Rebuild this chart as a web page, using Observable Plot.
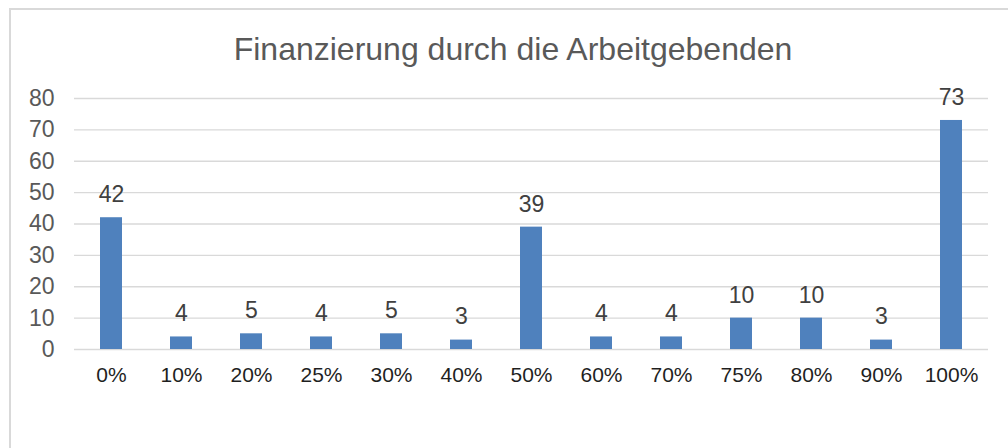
<!DOCTYPE html>
<html>
<head>
<meta charset="utf-8">
<script src="https://cdn.jsdelivr.net/npm/d3@7"></script>
<script src="https://cdn.jsdelivr.net/npm/@observablehq/plot@0.6"></script>
<style>
  html, body { margin: 0; padding: 0; background: #fff; overflow: hidden; }
  #wrap { position: relative; width: 1008px; height: 448px; overflow: hidden; font-family: "Liberation Sans", Arial, sans-serif; }
  #frame { position: absolute; left: 9px; top: 8px; width: 1200px; height: 600px; border-top: 2px solid #d9d9d9; border-left: 2px solid #d9d9d9; box-sizing: border-box; }
  #title { position: absolute; left: 18px; width: 990px; top: 33px; text-align: center; font-size: 32px; line-height: 32px; color: #595959; white-space: nowrap; }
  #chart { position: absolute; left: 0; top: 0; }
  #chart svg text { font-family: "Liberation Sans", Arial, sans-serif; }
  #chart svg g.yticks text { font-size: 23px !important; }
  #chart svg g.xticks text { font-size: 21px !important; }
  #chart svg g.vlabels text { font-size: 23px !important; }
</style>
</head>
<body>
<div id="wrap">
  <div id="frame"></div>
  <div id="chart"></div>
  <div id="title">Finanzierung durch die Arbeitgebenden</div>
</div>
<script>
const categories = ["0%", "10%", "20%", "25%", "30%", "40%", "50%", "60%", "70%", "75%", "80%", "90%", "100%"];
const counts = [42, 4, 5, 4, 5, 3, 39, 4, 4, 10, 10, 3, 73];
const yTicks = [0, 10, 20, 30, 40, 50, 60, 70, 80];

const data = categories.map((c, i) => ({category: c, value: counts[i]}));

const chart = Plot.plot({
  width: 1008,
  height: 448,
  marginLeft: 74,
  marginRight: 20,
  marginTop: 98,
  marginBottom: 99,
  style: {fontFamily: "'Liberation Sans', Arial, sans-serif", background: "transparent", overflow: "visible"},
  x: {domain: categories, padding: 0, label: null},
  y: {domain: [0, 80], label: null},
  marks: [
    Plot.gridY(yTicks, {stroke: "#d9d9d9", strokeOpacity: 1, strokeWidth: 1.4}),
    Plot.axisY(yTicks, {tickSize: 0, tickPadding: 20, fontSize: 23, fill: "#595959", label: null, className: "yticks"}),
    Plot.axisX({tickSize: 0, tickPadding: 17.8, fontSize: 21, fill: "#1f1f1f", label: null, className: "xticks"}),
    Plot.barY(data, {x: "category", y: "value", fill: "#4f81bd", insetLeft: 24, insetRight: 24}),
    Plot.text(data, {x: "category", y: "value", text: d => String(d.value), dy: -23, fontSize: 23, fill: "#404040", className: "vlabels"})
  ]
});
document.getElementById("chart").appendChild(chart);
</script>
</body>
</html>
